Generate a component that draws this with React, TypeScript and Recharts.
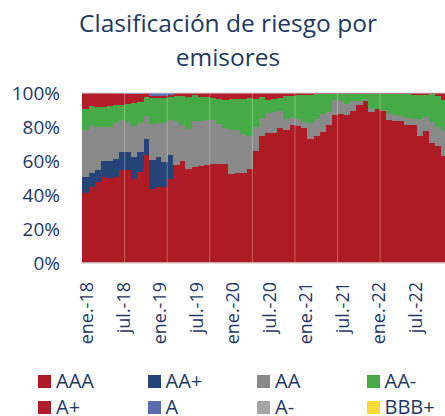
import React from "react";
import { BarChart, Bar, XAxis, YAxis, ReferenceLine } from "recharts";

const months = [
  "ene.-18", "feb.-18", "mar.-18", "abr.-18", "may.-18", "jun.-18", "jul.-18", "ago.-18", "sept.-18", "oct.-18", "nov.-18", "dic.-18",
  "ene.-19", "feb.-19", "mar.-19", "abr.-19", "may.-19", "jun.-19", "jul.-19", "ago.-19", "sept.-19", "oct.-19", "nov.-19", "dic.-19",
  "ene.-20", "feb.-20", "mar.-20", "abr.-20", "may.-20", "jun.-20", "jul.-20", "ago.-20", "sept.-20", "oct.-20", "nov.-20", "dic.-20",
  "ene.-21", "feb.-21", "mar.-21", "abr.-21", "may.-21", "jun.-21", "jul.-21", "ago.-21", "sept.-21", "oct.-21", "nov.-21", "dic.-21",
  "ene.-22", "feb.-22", "mar.-22", "abr.-22", "may.-22", "jun.-22", "jul.-22", "ago.-22", "sept.-22", "oct.-22", "nov.-22", "dic.-22",
];

// % of portfolio by rating
const aaa = [
  41, 45, 47.5, 50.3, 50, 50.5, 54.6, 54.6, 49.6, 53.4, 63.3, 43.3, 45, 44.9, 49.2, 57.9, 60.1, 55.3, 56.5, 57.3,
  57.6, 58.4, 58.2, 58.4, 52.2, 53.1, 52.7, 55.1, 65.7, 74.5, 76.3, 76.3, 79.4, 78, 81, 80.4, 79.2, 72.9, 74.5, 77.3,
  81.4, 87.3, 87.8, 86.9, 89.2, 93.1, 95.5, 88.8, 90.8, 89.6, 84.3, 83.5, 83.5, 81.4, 81.3, 74.5, 77.9, 70.5, 68.6, 62.7,
];
const aaPlus = [
  9.4, 7.9, 7, 9.5, 9.8, 10.9, 10.5, 10.5, 12.5, 12.1, 9.8, 17.1, 17.1, 14.5, 14.1, 0, 0, 0, 0, 0,
  0, 0, 0, 0, 0, 0, 0, 0, 0, 0, 0, 0, 0, 0, 0, 0, 0, 0, 0, 0,
  0, 0, 0, 0, 0, 0, 0, 0, 0, 0, 0, 0, 0, 0, 0, 0, 0, 0, 0, 0,
];
const aa = [
  28, 27.9, 25.3, 20.2, 20.4, 21, 18.8, 17.6, 18.5, 17, 13.2, 21.6, 20.3, 23.1, 20.8, 25.4, 20.9, 23.7, 26.8, 26,
  26.7, 25.5, 23.8, 21.2, 25.8, 24.9, 23, 19.4, 14.1, 10.8, 11.9, 12.5, 10.2, 6.7, 4.9, 4.3, 3.5, 9.6, 10, 10.3,
  7.6, 8.7, 7.7, 6.6, 6.3, 2.4, 1, 2.2, 0, 0.5, 3.7, 3.5, 2.8, 4.1, 3.7, 10.2, 8.1, 12.2, 11.4, 14.7,
];
const aaMinus = [
  12.4, 11.4, 11.8, 11.8, 12, 10.5, 9, 11, 13.5, 12.2, 11.2, 15, 14.6, 14.5, 13.4, 14.9, 17.2, 18.8, 15.3, 14.3,
  13.3, 13, 14.5, 16.5, 18.5, 18.7, 20.8, 22.6, 16.9, 12.3, 7.9, 7.9, 7.3, 13.3, 12.5, 13.9, 16.3, 16.5, 14.7, 11.6,
  10.5, 3.5, 4, 6, 4, 4, 3, 8.5, 8.7, 9.4, 11.5, 12.5, 13.2, 14, 14, 14.3, 13, 16.8, 18, 18.6,
];
const aPlus = [
  9.2, 7.8, 8.4, 8.2, 7.8, 7.1, 7.1, 5.8, 5.4, 4.8, 2.5, 1.2, 1.2, 1.2, 1.2, 1.8, 1.8, 2.2, 1.4, 2.4,
  2.4, 3.1, 3.5, 3.9, 3.5, 3.3, 3.5, 2.9, 3.3, 2.4, 3.9, 3.3, 3.1, 2, 1.6, 1.4, 1, 1, 0.8, 0.8,
  0.5, 0.5, 0.5, 0.5, 0.5, 0.5, 0.5, 0.5, 0.5, 0.5, 0.5, 0.5, 0.5, 0.5, 1, 1, 1, 0.5, 2, 4,
];
const aRating = [
  0, 0, 0, 0, 0, 0, 0, 0.5, 0.5, 0.5, 0, 1.8, 1.8, 1.8, 1.3, 0, 0, 0, 0, 0,
  0, 0, 0, 0, 0, 0, 0, 0, 0, 0, 0, 0, 0, 0, 0, 0, 0, 0, 0, 0,
  0, 0, 0, 0, 0, 0, 0, 0, 0, 0, 0, 0, 0, 0, 0, 0, 0, 0, 0, 0,
];
const aMinus = [
  0, 0, 0, 0, 0, 0, 0, 0, 0, 0, 0, 0, 0, 0, 0, 0, 0, 0, 0, 0,
  0, 0, 0, 0, 0, 0, 0, 0, 0, 0, 0, 0, 0, 0, 0, 0, 0, 0, 0, 0,
  0, 0, 0, 0, 0, 0, 0, 0, 0, 0, 0, 0, 0, 0, 0, 0, 0, 0, 0, 0,
];
const bbbPlus = [
  0, 0, 0, 0, 0, 0, 0, 0, 0, 0, 0, 0, 0, 0, 0, 0, 0, 0, 0, 0,
  0, 0, 0, 0, 0, 0, 0, 0, 0, 0, 0, 0, 0, 0, 0, 0, 0, 0, 0, 0,
  0, 0, 0, 0, 0, 0, 0, 0, 0, 0, 0, 0, 0, 0, 0, 0, 0, 0, 0, 0,
];

const yTicks = [0, 0.2, 0.4, 0.6, 0.8, 1];
// faint seams in the original export
const seamMonths = ["ago.-18", "mar.-19", "oct.-19", "may.-20", "dic.-20", "jul.-21", "feb.-22"];

const series = [
  { key: "AAA", values: aaa, color: "#AE1B25" },
  { key: "AA+", values: aaPlus, color: "#264478" },
  { key: "AA", values: aa, color: "#898989" },
  { key: "AA-", values: aaMinus, color: "#46AB46" },
  { key: "A+", values: aPlus, color: "#B41C29" },
  { key: "A", values: aRating, color: "#5A6DB0" },
  { key: "A-", values: aMinus, color: "#A5A5A5" },
  { key: "BBB+", values: bbbPlus, color: "#F7D93A" },
];

const data = months.map((month, i) => {
  const row: Record<string, string | number> = { month };
  series.forEach((s) => (row[s.key] = s.values[i]));
  return row;
});

const TEXT = "#1F3864";
const FONT = "'Open Sans', 'Noto Sans', sans-serif";

function MonthTick({ x, y, payload }: { x?: number; y?: number; payload?: { value: string } }) {
  return (
    <g transform={`translate(${(x ?? 0) + 2},${y ?? 0})`}>
      <text transform="rotate(-90)" textAnchor="end" dy="0.35em" fill={TEXT} fontSize={18} fontFamily={FONT}>
        {payload?.value}
      </text>
    </g>
  );
}

// bars overlap their neighbour a little so no seams show between months
function StepRect(props: any) {
  const { x, y, width, height, fill } = props;
  if (!height || height <= 0) return null;
  return <rect x={x} y={y} width={width + 0.8} height={height} fill={fill} shapeRendering="crispEdges" />;
}

export default function App() {
  return (
    <div style={{ position: "absolute", left: 0, top: 0, width: 445, height: 416, overflow: "hidden", background: "#fff", fontFamily: FONT }}>
      <div style={{ position: "absolute", left: 0, top: 6, width: 456, textAlign: "center", color: TEXT, fontSize: 24.5, lineHeight: "34px" }}>
        Clasificación de riesgo por
        <br />
        emisores
      </div>
      <div style={{ position: "absolute", left: 0, top: 0 }}>
        <BarChart
          width={447}
          height={416}
          data={data}
          stackOffset="expand"
          barCategoryGap={0}
          margin={{ top: 93, right: 0, bottom: 53, left: 0 }}
        >
          <XAxis
            dataKey="month"
            interval={5}
            tick={<MonthTick />}
            tickLine={false}
            tickSize={0}
            tickMargin={19}
            height={100}
            axisLine={{ stroke: "#d4d4d4", strokeWidth: 1.5 }}
          />
          <YAxis
            ticks={yTicks}
            domain={[0, 1]}
            tickFormatter={(v: number) => `${Math.round(v * 100)}%`}
            tick={{ fill: TEXT, fontSize: 19, fontFamily: FONT }}
            tickLine={false}
            axisLine={false}
            tickSize={0}
            tickMargin={22}
            width={82}
          />
          {series.map((s) => (
            <Bar
              key={s.key}
              dataKey={s.key}
              stackId="r"
              fill={s.color}
              shape={<StepRect />}
              isAnimationActive={false}
            />
          ))}
          <ReferenceLine y={1} stroke="#d4d4dc" strokeWidth={1.2} />
          {seamMonths.map((m) => (
            <ReferenceLine key={m} x={m} position="start" stroke="rgba(255,255,255,0.3)" strokeWidth={1} />
          ))}
        </BarChart>
      </div>
      <div style={{ position: "absolute", left: 38, top: 370, display: "grid", gridTemplateColumns: "109.5px 109.5px 109.5px 80px", color: TEXT, fontSize: 20, lineHeight: "18px" }}>
        {series.map((s) => (
          <div key={s.key} style={{ display: "flex", alignItems: "center", height: 22, marginBottom: 4 }}>
            <span style={{ width: 13, height: 13, background: s.color, marginRight: 5, flex: "none" }} />
            <span>{s.key}</span>
          </div>
        ))}
      </div>
    </div>
  );
}
